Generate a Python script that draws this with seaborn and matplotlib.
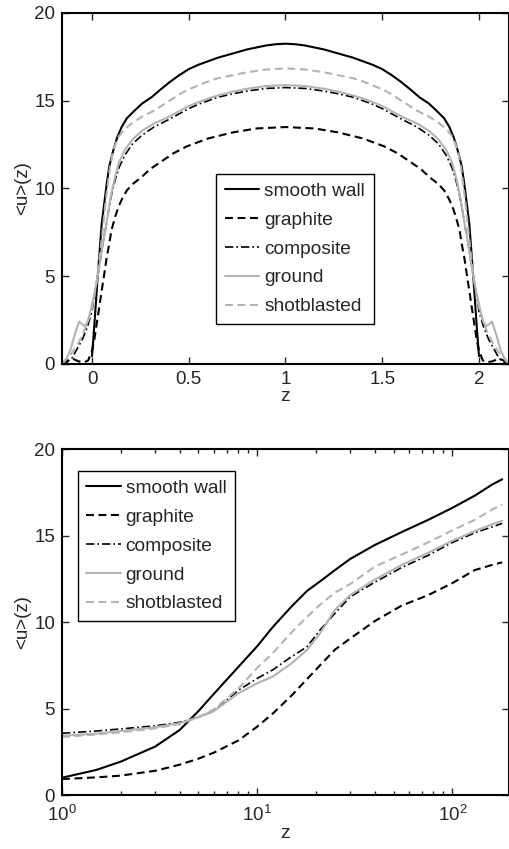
import numpy as np
import pandas as pd
import seaborn as sns
import matplotlib
matplotlib.use("Agg")
import matplotlib.pyplot as plt

sns.set_style("ticks")
plt.rcParams['font.family'] = ['Liberation Sans', 'DejaVu Sans']
plt.rcParams['font.size'] = 13
plt.rcParams['xtick.direction'] = 'in'
plt.rcParams['ytick.direction'] = 'in'

labels = ["smooth wall", "graphite", "composite", "ground", "shotblasted"]
colors = ["black", "black", "black", (0.7, 0.7, 0.7), (0.7, 0.7, 0.7)]
styles = ["-", (0, (3.8, 2.2)), (0, (5, 1.8, 1, 1.8)), "-", (0, (3.8, 2.2))]
widths = [1.5, 1.5, 1.2, 1.5, 1.5]

# ---- top panel: half profiles (wall .. centreline), outer units ----
smooth_z = [0.0, 0.012, 0.029, 0.05, 0.076, 0.09, 0.11, 0.13, 0.153, 0.18, 0.222, 0.26, 0.308, 0.35,
            0.4, 0.45, 0.5, 0.55, 0.6, 0.65, 0.73, 0.8, 0.9, 0.95, 1.0]
smooth_u = [0.45, 2.2, 4.9, 7.98, 10.27, 11.3, 12.17, 12.9, 13.5, 14.0, 14.46, 14.85, 15.2, 15.6,
            16.05, 16.45, 16.8, 17.05, 17.25, 17.45, 17.7, 17.92, 18.15, 18.22, 18.25]

graphite_z = [-0.155, -0.13, -0.1, -0.07, -0.04, -0.02, 0.0, 0.012, 0.024, 0.037, 0.05, 0.063, 0.076,
              0.09, 0.1, 0.12, 0.136, 0.155, 0.18, 0.21, 0.256, 0.3, 0.36, 0.42, 0.49, 0.6, 0.73, 0.85, 1.0]
graphite_u = [0.0, 0.2, 0.3, 0.15, 0.1, 0.2, 0.74, 1.4, 2.27, 3.2, 4.17, 5.1, 6.07,
              6.9, 7.6, 8.4, 8.93, 9.4, 9.89, 10.25, 10.65, 11.1, 11.55, 12.0, 12.4, 12.85, 13.2, 13.42, 13.5]

composite_z = [-0.155, -0.13, -0.105, -0.08, -0.05, -0.024, 0.0, 0.012, 0.025, 0.04, 0.055, 0.07, 0.085,
               0.1, 0.12, 0.14, 0.17, 0.21, 0.26, 0.32, 0.4, 0.45, 0.5, 0.55, 0.6, 0.65, 0.73, 0.8, 0.9, 1.0]
composite_u = [0.0, 0.1, 0.3, 0.8, 1.4, 2.1, 3.0, 3.9, 4.7, 5.7, 6.8, 7.7, 8.7,
               9.6, 10.5, 11.2, 11.9, 12.55, 13.05, 13.5, 13.95, 14.25, 14.55, 14.8, 15.0, 15.2, 15.4,
               15.55, 15.7, 15.75]

ground_z = [-0.155, -0.13, -0.11, -0.09, -0.067, -0.05, -0.036, -0.02, 0.0, 0.012, 0.025, 0.04, 0.055, 0.07,
            0.085, 0.1, 0.12, 0.14, 0.17, 0.21, 0.26, 0.32, 0.4, 0.45, 0.5, 0.55, 0.6, 0.65, 0.73, 0.8, 0.9, 1.0]
ground_u = [0.0, 0.35, 0.85, 1.65, 2.42, 2.25, 2.15, 2.45, 3.4, 4.0, 4.7, 5.7, 6.8, 7.7,
            8.7, 9.7, 10.7, 11.5, 12.2, 12.8, 13.3, 13.7, 14.1, 14.4, 14.7, 14.92, 15.12, 15.3, 15.52,
            15.68, 15.84, 15.89]

shot_z = [-0.155, -0.13, -0.1, -0.07, -0.04, -0.02, 0.0, 0.012, 0.025, 0.04, 0.055, 0.067, 0.08,
          0.093, 0.11, 0.136, 0.17, 0.204, 0.26, 0.325, 0.4, 0.45, 0.49, 0.55, 0.6, 0.65, 0.73, 0.8, 0.9, 1.0]
shot_u = [0.0, 0.3, 0.7, 1.2, 1.9, 2.5, 3.2, 3.9, 4.8, 6.1, 7.6, 8.9, 10.1,
          11.2, 12.2, 12.93, 13.4, 13.7, 14.1, 14.46, 15.0, 15.35, 15.6, 15.88, 16.1, 16.28, 16.46,
          16.62, 16.78, 16.84]

# ---- bottom panel: wall units ----
zplus = [1, 1.5, 2, 3, 4, 5, 6, 8, 10, 12, 15, 18, 21, 25, 30, 40, 55, 75, 100, 130, 160, 180]
smooth_p = [1.0, 1.45, 1.93, 2.8, 3.75, 4.85, 5.85, 7.4, 8.6, 9.7, 10.9, 11.8, 12.35, 13.0, 13.65,
            14.45, 15.2, 15.9, 16.6, 17.3, 17.95, 18.25]
graphite_p = [0.92, 1.02, 1.12, 1.4, 1.75, 2.1, 2.45, 3.15, 3.95, 4.7, 5.75, 6.7, 7.5, 8.4, 9.05,
              10.05, 10.95, 11.55, 12.25, 13.0, 13.3, 13.45]
composite_p = [3.57, 3.7, 3.82, 4.0, 4.2, 4.5, 4.85, 6.05, 6.74, 7.23, 8.0, 8.57, 9.54, 10.5, 11.46,
               12.3, 13.15, 13.85, 14.6, 15.15, 15.5, 15.7]
ground_p = [3.42, 3.55, 3.7, 3.92, 4.15, 4.5, 4.85, 5.88, 6.46, 6.84, 7.61, 8.38, 9.35, 10.7, 11.56,
            12.45, 13.3, 14.0, 14.7, 15.25, 15.65, 15.85]
shot_p = [3.35, 3.5, 3.62, 3.85, 4.1, 4.5, 4.95, 6.15, 7.35, 8.2, 9.4, 10.3, 11.0, 11.7, 12.2,
          13.2, 13.9, 14.6, 15.3, 15.9, 16.5, 16.8]


def full_profile(z, u):
    z = np.asarray(z, float)
    u = np.asarray(u, float)
    zz = np.concatenate([z, 2 - z[::-1][1:]])
    uu = np.concatenate([u, u[::-1][1:]])
    return pd.DataFrame({"z": zz, "u": uu})


fig = plt.figure(figsize=(5.1, 8.49), dpi=100)
ax1 = fig.add_axes([0.1216, 0.5713, 0.8764, 0.4134])
ax2 = fig.add_axes([0.1216, 0.0636, 0.8764, 0.4075])

top = [(smooth_z, smooth_u), (graphite_z, graphite_u), (composite_z, composite_u),
       (ground_z, ground_u), (shot_z, shot_u)]
for (z, u), lab, c, ls, lw in zip(top, labels, colors, styles, widths):
    df = full_profile(z, u)
    sns.lineplot(data=df, x="z", y="u", ax=ax1, color=c, linestyle=ls, linewidth=lw,
                 sort=False, estimator=None, label=lab)

bottom = [smooth_p, graphite_p, composite_p, ground_p, shot_p]
for u, lab, c, ls, lw in zip(bottom, labels, colors, styles, widths):
    df = pd.DataFrame({"z": zplus, "u": u})
    sns.lineplot(data=df, x="z", y="u", ax=ax2, color=c, linestyle=ls, linewidth=lw,
                 sort=False, estimator=None, label=lab)

ax1.set_xlim(-0.155, 2.155)
ax1.set_ylim(0, 20)
ax1.set_xticks([0, 0.5, 1, 1.5, 2])
ax1.set_xticklabels(["0", "0.5", "1", "1.5", "2"])
ax1.set_yticks([0, 5, 10, 15, 20])

ax2.set_xscale("log")
ax2.set_xlim(1, 195)
ax2.set_ylim(0, 20)
ax2.set_yticks([0, 5, 10, 15, 20])

for ax in (ax1, ax2):
    ax.set_xlabel("z", fontsize=14, labelpad=0)
    ax.set_ylabel("<u>(z)", fontsize=13.5, labelpad=2)
    ax.tick_params(which="both", top=True, right=True, direction="in", labelsize=13.5, width=1)
    ax.tick_params(which="major", length=5, pad=5)
    ax.tick_params(which="minor", length=3)
    for s in ax.spines.values():
        s.set_linewidth(1.5)
        s.set_color("black")
ax2.tick_params(axis="x", which="major", pad=7)

leg_kw = dict(frameon=True, fancybox=False, framealpha=1, edgecolor="black", fontsize=13.8,
              handlelength=1.8, handletextpad=0.25, labelspacing=0.6, borderpad=0.45,
              borderaxespad=0)
l1 = ax1.legend(loc="center", bbox_to_anchor=(0.521, 0.328), **leg_kw)
l2 = ax2.legend(loc="center", bbox_to_anchor=(0.211, 0.72), **leg_kw)
for l in (l1, l2):
    l.get_frame().set_linewidth(1.0)

fig.savefig("out.png", dpi=100)
